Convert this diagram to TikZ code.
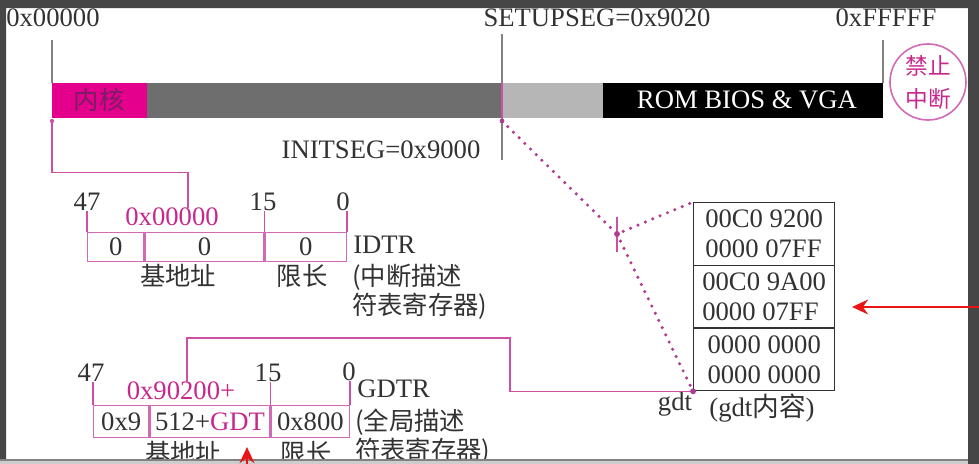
\documentclass[tikz,border=0pt]{standalone}
\usepackage{fontspec}
\setmainfont{Liberation Serif}
\newfontfamily\cjk{Noto Sans CJK SC}
\usetikzlibrary{positioning,arrows.meta,calc}

\definecolor{frameGray}{RGB}{70,70,70}
\definecolor{stripGray}{RGB}{205,205,205}
\definecolor{textGray}{RGB}{50,50,50}
\definecolor{kernelPink}{RGB}{228,0,140}
\definecolor{kernelText}{RGB}{120,30,100}
\definecolor{darkBar}{RGB}{110,110,110}
\definecolor{lightBar}{RGB}{182,182,182}
\definecolor{pinkLine}{RGB}{205,80,165}
\definecolor{pinkBox}{RGB}{210,105,180}
\definecolor{pinkText}{RGB}{200,40,140}
\definecolor{dotPink}{RGB}{175,60,145}
\definecolor{tickGray}{RGB}{130,130,130}
\definecolor{annoRed}{RGB}{235,20,20}

\tikzset{
  txt/.style={text=textGray, inner sep=0pt, font=\fontsize{20}{22.5}\selectfont},
  cjktxt/.style={txt, font=\cjk\fontsize{19}{21.75}\selectfont},
  pinkline/.style={draw=pinkLine, line width=1.1pt},
  regcell/.style={txt, draw=pinkBox, line width=1pt, minimum height=21.75pt},
  gdtrow/.style={txt, draw=textGray, line width=1pt, minimum width=105.75pt, minimum height=47pt, align=left},
  dotline/.style={draw=dotPink, line width=2.6pt, dash pattern=on 0pt off 6pt, line cap=round},
  redarrow/.style={draw=annoRed, line width=2.2pt, -{Stealth[length=12pt,width=11pt]}},
}

\begin{document}
\begin{tikzpicture}[x=0.75pt,y=0.75pt,yscale=-1,xscale=1]
\useasboundingbox (0,0) rectangle (979,464);
\fill[white] (0,0) rectangle (979,464);

%Memory bar
\fill[kernelPink] (52,83) rectangle (147,118);
\fill[darkBar] (147,83) rectangle (502,118);
\fill[lightBar] (502,83) rectangle (603,118);
\fill[black] (603,83) rectangle (883,118);
\draw[pinkLine, line width=2pt] (502,83) -- (502,118);

% Text Node
\node[cjktxt, text=kernelText] (kernel) at (99,100) {内核};
\node[txt, text=white] (rom) at (747,100) {ROM BIOS \& VGA};
\node[txt] (lowaddr) at (53,18) {0x00000};
\node[txt] (setupseg) at (597,18) {SETUPSEG=0x9020};
\node[txt] (highaddr) at (886,18) {0xFFFFF};
\node[txt] (initseg) at (381,150) {INITSEG=0x9000};

%address marks
\coordinate (kbase) at (52,121);
\coordinate (setup) at (502,121);
\draw[tickGray, line width=1pt] (52,40) -- (52,83);
\draw[tickGray, line width=1pt] (502,34) -- (502,83) (502,118) -- (502,160);
\draw[tickGray, line width=1pt] (883,40) -- (883,83);

%Shape: Circle
\node[circle, draw=pinkBox, line width=1.2pt, minimum size=57pt, inner sep=0pt, align=center,
  text=pinkText, font=\cjk\fontsize{17}{24.75}\selectfont] (cli) at (928,82) {禁止\\中断};

%IDTR
\node[regcell, minimum width=42pt, anchor=north west] (i1) at (87,232) {0};
\node[regcell, minimum width=89.25pt, right=0pt of i1] (i2) {0};
\node[regcell, minimum width=60.75pt, right=0pt of i2] (i3) {0};
\node[txt] (i47) at (87,202) {47};
\node[txt] (i15) at (263,202) {15};
\node[txt] (i0) at (343,202) {0};
\node[txt, text=pinkText] (idtrbase) at (172,217) {0x00000};
\node[cjktxt] (ibase) at (178,276) {基地址};
\node[cjktxt] (ilimit) at (302,276) {限长};
\node[txt, anchor=west] (idtr) at (353,245) {IDTR};
\node[cjktxt, anchor=west, align=left] (idtrname) at (352,292) {(中断描述\\符表寄存器)};
\draw[pinkline] (i1.north west) -- (i1.north west |- i47.south);
\draw[pinkline] (i3.north west) -- (i3.north west |- i15.south);
\draw[pinkline] (i3.north east) -- (i3.north east |- i0.south);
\draw[pinkline] (kbase) |- ($(idtrbase.north)+(16,-35)$) -- ($(idtrbase.north)+(16,0)$);
\fill[pinkLine] (kbase) circle (1.6pt);

%GDTR
\node[regcell, minimum height=24pt, minimum width=41.25pt, anchor=north west] (gr1) at (93,405) {0x9};
\node[regcell, minimum height=24pt, minimum width=90pt, right=0pt of gr1] (gr2) {512+\textcolor{pinkText}{GDT}};
\node[regcell, minimum height=24pt, minimum width=58.5pt, right=0pt of gr2] (gr3) {0x800};
\node[txt] (g47) at (91,373) {47};
\node[txt] (g15) at (268,373) {15};
\node[txt] (g0) at (349,372) {0};
\node[txt, text=pinkText] (gdtrbase) at (181,391) {0x90200+};
\node[cjktxt] (gbase) at (183,453) {基地址};
\node[cjktxt] (glimit) at (306,453) {限长};
\node[txt, anchor=west] (gdtr) at (357,389) {GDTR};
\node[cjktxt, anchor=west, align=left] (gdtrname) at (355,437) {(全局描述\\符表寄存器)};
\draw[pinkline] (gr1.north west) -- (gr1.north west |- g47.south);
\draw[pinkline] (gr3.north west) -- (gr3.north west |- g15.south);
\draw[pinkline] (gr3.north east) -- (gr3.north east |- g0.south);

%gdt contents
\node[gdtrow, anchor=north west] (g1) at (693,202) {00C0 9200\\0000 07FF};
\node[gdtrow, below=-1pt of g1] (g2) {00C0 9A00\\0000 07FF};
\node[gdtrow, below=-1pt of g2] (g3) {0000 0000\\0000 0000};
\node[txt] (gdtlabel) at (675,404) {gdt};
\node[txt] (gdtcontent) at (762,408) {(gdt{\cjk 内容})};

\draw[pinkline] ($(gdtrbase.north)+(6,0)$) |- (510,338) |- (g3.south west);

%Dotted Lines
\coordinate (tick) at (617,234);
\draw[dotline] (setup) -- (tick) -- (g1.north west);
\draw[dotline] (tick) -- (g3.south west);
\draw[pinkline] (617,217) -- (617,252);
\fill[dotPink] (tick) circle (2.2pt);
\fill[dotPink] (setup) circle (1.8pt);
\fill[dotPink] (g3.south west) circle (2.2pt);

%frame
\fill[frameGray, even odd rule] (0,0) rectangle (979,464) (6,8) rectangle (968,460);
\fill[stripGray] (0,460) rectangle (968,464);
\draw[tickGray, line width=0.8pt] (0,460) -- (968,460);

%Straight Lines (red marks)
\coordinate (markR) at (979,307);
\coordinate (markRtip) at (852,307);
\coordinate (markB) at (247,464);
\coordinate (markBtip) at (247,447);
\draw[redarrow] (markR) -- (markRtip);
\draw[redarrow] (markB) -- (markBtip);

\end{tikzpicture}
\end{document}
